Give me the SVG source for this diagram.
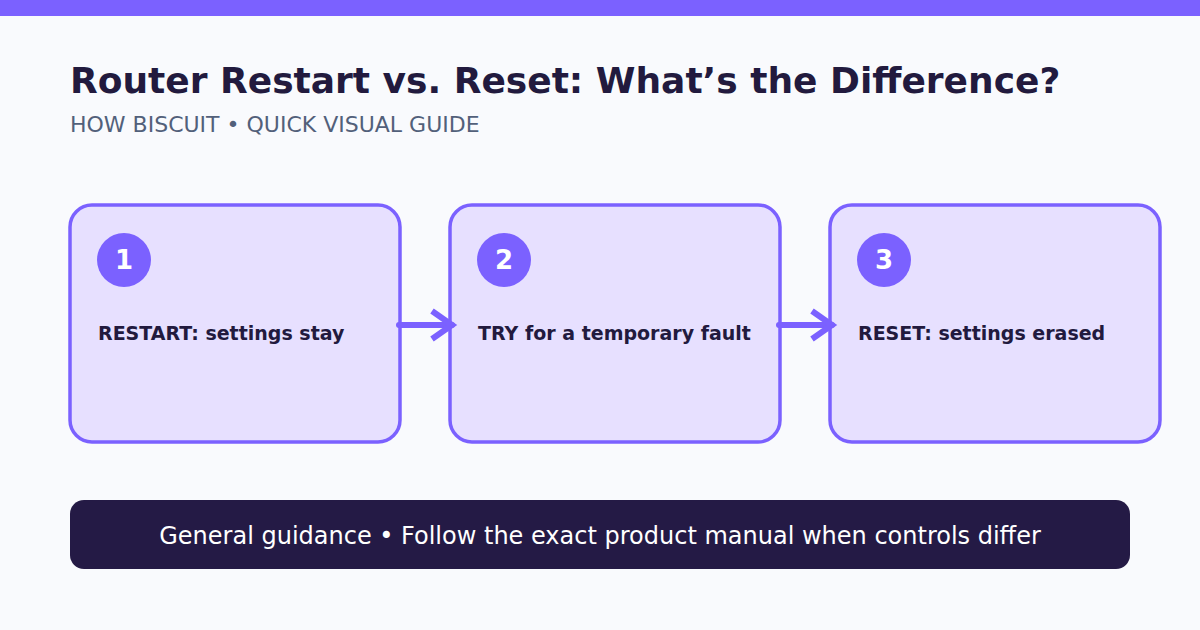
<svg xmlns="http://www.w3.org/2000/svg" width="1200" height="630" viewBox="0 0 1200 630">
<style>
.card{fill:#e7e0ff;stroke:#7b61ff;stroke-width:3.5}
.badge{fill:#7b61ff}
.num{font-family:"DejaVu Sans",sans-serif;font-weight:bold;font-size:26px;fill:#ffffff;text-anchor:middle}
.lbl{font-family:"DejaVu Sans",sans-serif;font-weight:bold;font-size:19px;fill:#221a3e}
.conn{stroke:#7b61ff;stroke-width:6;fill:none}
</style>
<rect x="0" y="0" width="1200" height="630" fill="#f9fafd"/>
<rect x="0" y="0" width="1200" height="16" fill="#7b61ff"/>
<text x="70" y="93" font-family="DejaVu Sans, sans-serif" font-weight="bold" font-size="36" fill="#221a3e">Router Restart vs. Reset: What’s the Difference?</text>
<text x="70" y="132" font-family="DejaVu Sans, sans-serif" font-size="22" fill="#52607a">HOW BISCUIT • QUICK VISUAL GUIDE</text>
<g id="node1">
<rect class="card" x="70" y="205" width="330" height="237" rx="22"/>
<circle class="badge" cx="124" cy="260" r="27"/>
<text class="num" x="124" y="269">1</text>
<text class="lbl" x="98" y="340">RESTART: settings stay</text>
</g>
<g id="node2">
<rect class="card" x="450" y="205" width="330" height="237" rx="22"/>
<circle class="badge" cx="504" cy="260" r="27"/>
<text class="num" x="504" y="269">2</text>
<text class="lbl" x="478" y="340">TRY for a temporary fault</text>
</g>
<g id="node3">
<rect class="card" x="830" y="205" width="330" height="237" rx="22"/>
<circle class="badge" cx="884" cy="260" r="27"/>
<text class="num" x="884" y="269">3</text>
<text class="lbl" x="858" y="340">RESET: settings erased</text>
</g>
<g id="connectors">
<path class="conn" d="M399 325 H452" stroke-linecap="round"/>
<path class="conn" d="M432 311 L452 325 L432 339" stroke-width="7"/>
<path class="conn" d="M779 325 H832" stroke-linecap="round"/>
<path class="conn" d="M812 311 L832 325 L812 339" stroke-width="7"/>
</g>
<g id="footer">
<rect x="70" y="500" width="1060" height="69" rx="14" fill="#241a45"/>
<text x="600" y="544" text-anchor="middle" font-family="DejaVu Sans, sans-serif" font-size="24" fill="#ffffff">General guidance • Follow the exact product manual when controls differ</text>
</g>
</svg>
